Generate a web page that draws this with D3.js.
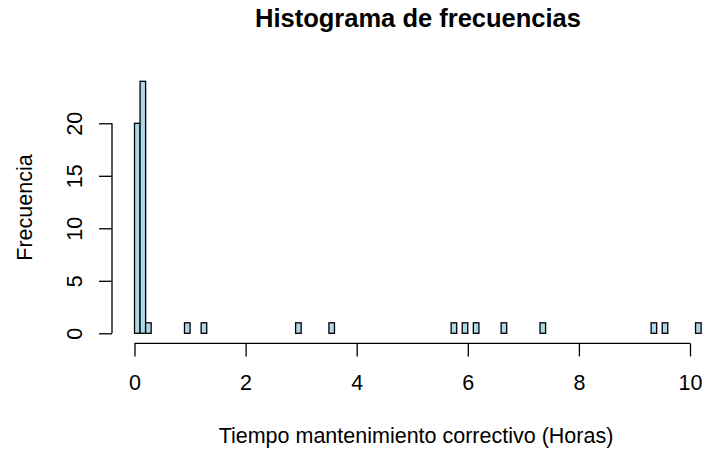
<!DOCTYPE html>
<html>
<head>
<meta charset="utf-8">
<script src="https://cdn.jsdelivr.net/npm/d3@7"></script>
<style>
  html,body{margin:0;padding:0;background:#fff;}
  svg{display:block;font-family:"Liberation Sans",Arial,sans-serif;}
</style>
</head>
<body>
<svg id="chart" width="702" height="451"></svg>
<script>
/* Histograma de frecuencias — bins de 0.1 h */
const binStarts = [0.0, 0.1, 0.2, 0.9, 1.2, 2.9, 3.5, 5.7, 5.9, 6.1, 6.6, 7.3, 9.3, 9.5, 10.1];
const binCounts = [20, 24, 1, 1, 1, 1, 1, 1, 1, 1, 1, 1, 1, 1, 1];
const binWidth = 0.1;
const histEnd = 10.2;
const xTicks = [0, 2, 4, 6, 8, 10];
const yTicks = [0, 5, 10, 15, 20];

const FONT = "Liberation Sans, Arial, sans-serif";
const LW = 1.3;
const svg = d3.select("#chart");
const x = d3.scaleLinear().domain([0, 10]).range([134.5, 690]);
const y = d3.scaleLinear().domain([0, 20]).range([333.3, 123.3]);
const axisY = 343.4, axisX = 112;

/* todas las clases, incluidas las vacías (se dibujan como línea base) */
const nBins = Math.round(histEnd / binWidth);
const bins = d3.range(nBins).map(i => {
  const x0 = +(i * binWidth).toFixed(1);
  const k = binStarts.findIndex(s => Math.abs(s - x0) < 1e-6);
  return { x0, x1: x0 + binWidth, n: k < 0 ? 0 : binCounts[k] };
});

svg.append("g").selectAll("rect").data(bins).join("rect")
  .attr("x", d => x(d.x0))
  .attr("y", d => y(d.n))
  .attr("width", d => x(d.x1) - x(d.x0))
  .attr("height", d => y(0) - y(d.n))
  .attr("fill", "#ADD8E6")
  .attr("stroke", "#000")
  .attr("stroke-width", LW);

/* eje x (estilo R: desplazado bajo la región) */
const gx = svg.append("g").attr("transform", `translate(0,${axisY})`)
  .call(d3.axisBottom(x).tickValues(xTicks).tickSize(13).tickFormat(d3.format("d")));
gx.select(".domain").attr("d", `M${x(0)},0H${x(10)}`).attr("stroke-width", LW);
gx.selectAll(".tick line").attr("stroke", "#000").attr("stroke-width", LW);
gx.selectAll(".tick text")
  .attr("y", 390 - axisY).attr("dy", null)
  .attr("font-size", 21.5).attr("fill", "#000").attr("font-family", FONT);

/* eje y con etiquetas giradas */
const gy = svg.append("g").attr("transform", `translate(${axisX},0)`)
  .call(d3.axisLeft(y).tickValues(yTicks).tickSize(13).tickFormat(d3.format("d")));
gy.select(".domain").attr("d", `M0,${y(0)}V${y(20)}`).attr("stroke-width", LW);
gy.selectAll(".tick line").attr("stroke", "#000").attr("stroke-width", LW);
gy.selectAll(".tick text")
  .attr("x", null).attr("dy", null)
  .attr("transform", `translate(${81.7 - axisX},0) rotate(-90)`)
  .attr("text-anchor", "middle")
  .attr("font-size", 21.5).attr("fill", "#000").attr("font-family", FONT);

svg.append("text")
  .attr("x", 418).attr("y", 27)
  .attr("text-anchor", "middle")
  .attr("font-size", 25.5).attr("font-weight", "bold")
  .text("Histograma de frecuencias");

svg.append("text")
  .attr("x", 416).attr("y", 443)
  .attr("text-anchor", "middle")
  .attr("font-size", 21.5)
  .text("Tiempo mantenimiento correctivo (Horas)");

svg.append("text")
  .attr("transform", "translate(32,207.5) rotate(-90)")
  .attr("text-anchor", "middle")
  .attr("font-size", 21.5)
  .text("Frecuencia");
</script>
</body>
</html>
